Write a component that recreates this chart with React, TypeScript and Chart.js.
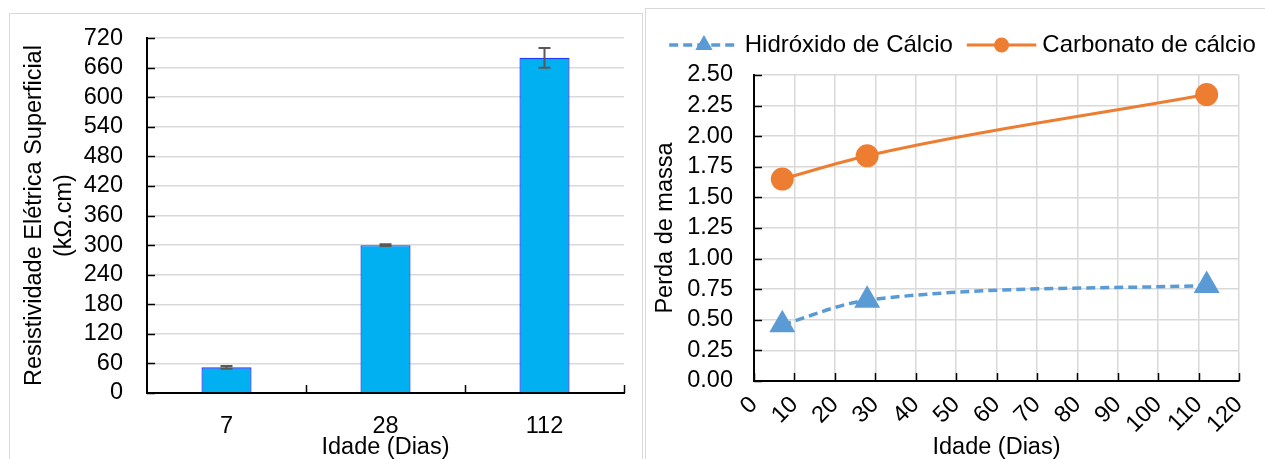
import React, { useEffect, useRef } from "react";
import { Chart, registerables } from "chart.js";

Chart.register(...registerables);

// ---- Left chart data (bar chart) ----
const barLabels = ["7", "28", "112"];
const barValues = [52, 300, 680];
const barErrors = [3, 2, 20];
const leftYMax = 720;
const leftYStep = 60;

// ---- Right chart data (line chart) ----
const ageDays = [7, 28, 112];
const hidroxido = [0.46, 0.66, 0.78];
const carbonato = [1.65, 1.84, 2.34];
const rightXMax = 120;
const rightXStep = 10;
const rightYMax = 2.5;
const rightYStep = 0.25;

const seriesNames = ["Hidróxido de Cálcio", "Carbonato de cálcio"];

const FONT_FAMILY = "'Liberation Sans', Arial, Helvetica, sans-serif";
const FS = 23.5;
const GRID = "#d9d9d9";
const BLUE = "#5B9BD5";
const ORANGE = "#ED7D31";

const innerTicks = {
  id: "innerTicks",
  afterDraw(chart: any) {
    const { ctx, chartArea: a, scales } = chart;
    ctx.save();
    ctx.strokeStyle = "#000";
    ctx.lineWidth = 1.5;
    const y = scales.y;
    y.ticks.forEach((_t: any, i: number) => {
      const py = Math.round(y.getPixelForTick(i)) + 0.5;
      ctx.beginPath();
      ctx.moveTo(a.left, py);
      ctx.lineTo(a.left + 8, py);
      ctx.stroke();
    });
    const x = scales.x;
    const xs: number[] = [];
    if (x.type === "category") {
      for (let i = 0; i < x.ticks.length; i++) xs.push(x.getPixelForValue(i + 0.5));
    } else {
      x.ticks.forEach((_t: any, i: number) => xs.push(x.getPixelForTick(i)));
    }
    xs.forEach((px) => {
      const p = Math.round(px) + 0.5;
      ctx.beginPath();
      ctx.moveTo(p, a.bottom);
      ctx.lineTo(p, a.bottom - 8);
      ctx.stroke();
    });
    ctx.restore();
  },
};

const errorBars = {
  id: "errorBars",
  afterDatasetsDraw(chart: any) {
    const { ctx, scales } = chart;
    const meta = chart.getDatasetMeta(0);
    const y = scales.y;
    ctx.save();
    ctx.strokeStyle = "#595959";
    ctx.lineWidth = 2;
    meta.data.forEach((bar: any, i: number) => {
      const v = barValues[i];
      const e = barErrors[i];
      const top = y.getPixelForValue(v + e);
      const bot = y.getPixelForValue(v - e);
      const cx = bar.x;
      ctx.beginPath();
      ctx.moveTo(cx, top);
      ctx.lineTo(cx, bot);
      ctx.moveTo(cx - 6, top);
      ctx.lineTo(cx + 6, top);
      ctx.moveTo(cx - 6, bot);
      ctx.lineTo(cx + 6, bot);
      ctx.stroke();
    });
    ctx.restore();
  },
};

const legendSamples = {
  id: "legendSamples",
  afterDraw(chart: any) {
    const legend = chart.legend;
    if (!legend || !legend.legendHitBoxes) return;
    const { ctx } = chart;
    const boxW = legend.options.labels.boxWidth;
    legend.legendHitBoxes.forEach((hb: any, i: number) => {
      const ds = chart.data.datasets[i];
      const x0 = hb.left;
      const x1 = hb.left + boxW + 6;
      const cy = hb.top + hb.height / 2;
      const cx = (x0 + x1) / 2;
      ctx.save();
      ctx.strokeStyle = ds.borderColor;
      ctx.fillStyle = ds.backgroundColor;
      ctx.lineWidth = ds.borderWidth;
      ctx.setLineDash(ds.borderDash || []);
      ctx.beginPath();
      ctx.moveTo(x0, cy);
      ctx.lineTo(x1, cy);
      ctx.stroke();
      ctx.setLineDash([]);
      ctx.beginPath();
      if (ds.pointStyle === "triangle") {
        const r = 10;
        ctx.moveTo(cx, cy - r);
        ctx.lineTo(cx + r * 0.866, cy + r * 0.5);
        ctx.lineTo(cx - r * 0.866, cy + r * 0.5);
        ctx.closePath();
      } else {
        ctx.arc(cx, cy, 7.5, 0, Math.PI * 2);
      }
      ctx.fill();
      ctx.restore();
    });
  },
};

export default function App() {
  const leftRef = useRef<HTMLCanvasElement | null>(null);
  const rightRef = useRef<HTMLCanvasElement | null>(null);

  useEffect(() => {
    Chart.defaults.font.family = FONT_FAMILY;
    Chart.defaults.font.size = FS;
    Chart.defaults.color = "#000";
    const font = { family: FONT_FAMILY, size: FS };

    const left = new Chart(leftRef.current as HTMLCanvasElement, {
      type: "bar",
      data: {
        labels: barLabels,
        datasets: [
          {
            data: barValues,
            backgroundColor: "#00B0F0",
            borderColor: "#1F3BFF",
            borderWidth: 1.3,
            barPercentage: 0.315,
            categoryPercentage: 1,
          },
        ],
      },
      options: {
        animation: false,
        responsive: false,
        layout: { padding: { left: 0, top: 36, right: 16, bottom: 0 } },
        plugins: { legend: { display: false }, tooltip: { enabled: false } },
        scales: {
          x: {
            grid: { display: false, drawTicks: false },
            border: { display: true, color: "#000", width: 2 },
            ticks: { padding: 19, font, color: "#000" },
            title: { display: true, text: "Idade (Dias)", font: { ...font, lineHeight: 1 }, padding: 0, color: "#000" },
            afterFit: (s: any) => {
              s.height = 66;
            },
          },
          y: {
            min: 0,
            max: leftYMax,
            ticks: { stepSize: leftYStep, autoSkip: false, padding: 24, font, color: "#000" },
            grid: { color: GRID, lineWidth: 1.5, drawTicks: false },
            border: { display: true, color: "#000", width: 2 },
            title: {
              display: true,
              text: ["Resistividade Elétrica Superficial", "(kΩ.cm)"],
              font: { ...font, lineHeight: 1.26 },
              padding: { top: 20, bottom: 0 },
              color: "#000",
            },
            afterFit: (s: any) => {
              s.width = 147;
            },
          },
        },
      } as any,
      plugins: [innerTicks, errorBars],
    });

    const right = new Chart(rightRef.current as HTMLCanvasElement, {
      type: "line",
      data: {
        datasets: [
          {
            label: seriesNames[0],
            data: ageDays.map((x, i) => ({ x, y: hidroxido[i] })),
            borderColor: BLUE,
            backgroundColor: BLUE,
            borderWidth: 3.5,
            borderDash: [9, 5],
            pointStyle: "triangle",
            pointRadius: 15,
            pointBorderWidth: 0,
            cubicInterpolationMode: "monotone",
          },
          {
            label: seriesNames[1],
            data: ageDays.map((x, i) => ({ x, y: carbonato[i] })),
            borderColor: ORANGE,
            backgroundColor: ORANGE,
            borderWidth: 3,
            pointStyle: "circle",
            pointRadius: 11.5,
            pointBorderWidth: 0,
            cubicInterpolationMode: "monotone",
          },
        ],
      },
      options: {
        animation: false,
        responsive: false,
        layout: { padding: { left: 0, top: 11, right: 0, bottom: 0 } },
        plugins: {
          tooltip: { enabled: false },
          legend: {
            display: true,
            position: "top",
            labels: {
              boxWidth: 63.5,
              boxHeight: 40,
              padding: 14,
              font: { family: FONT_FAMILY, size: 24 },
              color: "#000",
              generateLabels: (chart: any) =>
                chart.data.datasets.map((ds: any, i: number) => ({
                  text: ds.label,
                  fillStyle: "rgba(0,0,0,0)",
                  strokeStyle: "rgba(0,0,0,0)",
                  lineWidth: 0,
                  hidden: false,
                  datasetIndex: i,
                  fontColor: "#000",
                })),
            },
          },
        },
        scales: {
          x: {
            type: "linear",
            min: 0,
            max: rightXMax,
            ticks: { stepSize: rightXStep, minRotation: 45, maxRotation: 45, autoSkip: false, padding: 10, font, color: "#000" },
            grid: { color: GRID, lineWidth: 1.5, drawTicks: false },
            border: { display: true, color: "#000", width: 2 },
            title: { display: true, text: "Idade (Dias)", font: { ...font, lineHeight: 1 }, padding: 0, color: "#000" },
            afterFit: (s: any) => {
              s.height = 78;
            },
          },
          y: {
            min: 0,
            max: rightYMax,
            ticks: { stepSize: rightYStep, autoSkip: false, padding: 21, font, color: "#000", callback: (v: any) => Number(v).toFixed(2) },
            grid: { color: GRID, lineWidth: 1.5, drawTicks: false },
            border: { display: true, color: "#000", width: 2 },
            title: { display: true, text: "Perda de massa", font: { ...font, lineHeight: 1 }, padding: { top: 13.5, bottom: 0 }, color: "#000" },
            afterFit: (s: any) => {
              s.width = 114;
            },
          },
          y2: {
            position: "right",
            display: true,
            min: 0,
            max: rightYMax,
            grid: { display: false, drawTicks: false },
            border: { display: false },
            ticks: { display: false },
            afterFit: (s: any) => {
              s.width = 46;
            },
          },
        },
      } as any,
      plugins: [innerTicks, legendSamples],
    });

    return () => {
      left.destroy();
      right.destroy();
    };
  }, []);

  return (
    <div
      style={{
        position: "fixed",
        left: 0,
        top: 0,
        width: 1265,
        height: 459,
        overflow: "hidden",
        background: "#fff",
      }}
    >
      <div
        style={{
          position: "absolute",
          left: 9,
          top: 13,
          width: 634,
          height: 470,
          border: "1.5px solid #d9d9d9",
          boxSizing: "border-box",
        }}
      />
      <div
        style={{
          position: "absolute",
          left: 645,
          top: 8,
          width: 640,
          height: 470,
          border: "1.5px solid #d9d9d9",
          boxSizing: "border-box",
        }}
      />
      <canvas
        ref={leftRef}
        width={640}
        height={459}
        style={{ position: "absolute", left: 0, top: 0, width: 640, height: 459 }}
      />
      <canvas
        ref={rightRef}
        width={645}
        height={459}
        style={{ position: "absolute", left: 640, top: 0, width: 645, height: 459 }}
      />
    </div>
  );
}
